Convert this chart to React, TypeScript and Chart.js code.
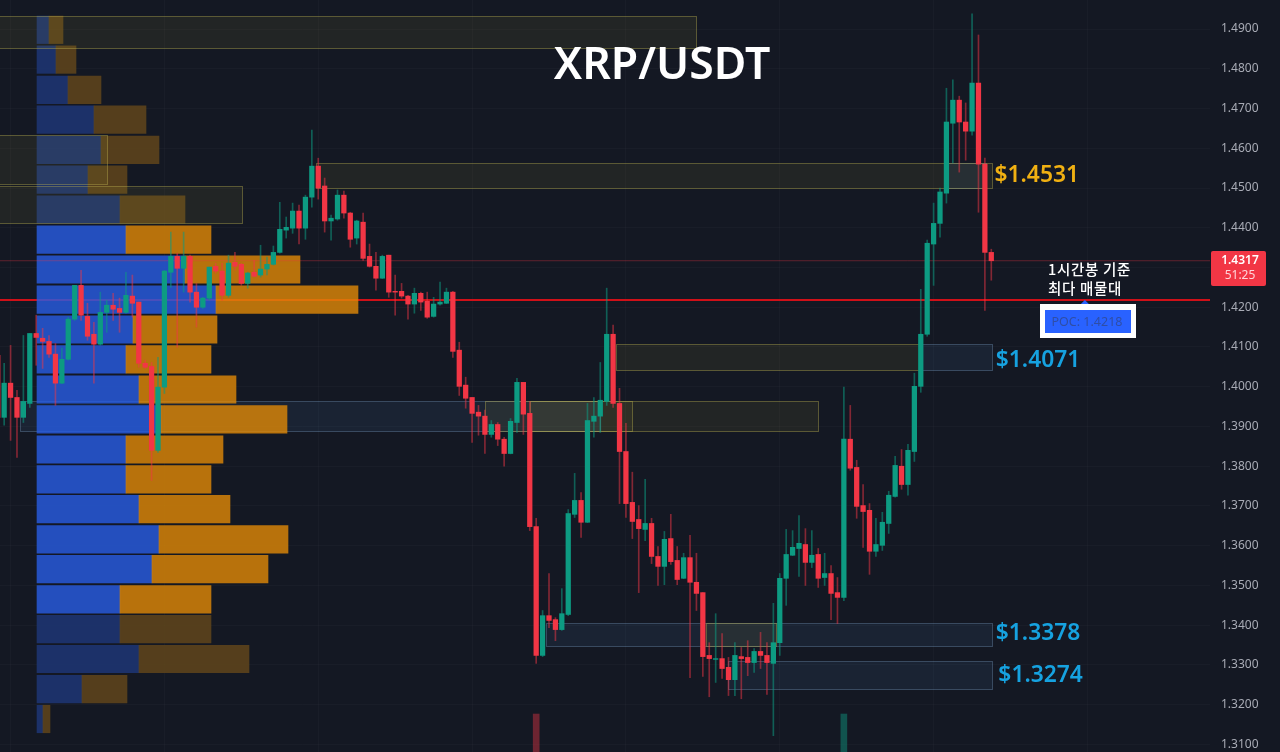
import React, { useEffect, useRef } from "react";
import { Chart, registerables } from "chart.js";

Chart.register(...registerables);

const highs = [
  1.4092,1.4059,1.4104,1.3991,1.4129,1.4134,1.4180,1.4147,1.4129,1.4109,
  1.4097,1.4175,1.4255,1.4293,1.4210,1.4162,1.4238,1.4218,1.4235,1.4223,
  1.4288,1.4281,1.4213,1.4067,1.4061,1.4074,1.4293,1.4389,1.4336,1.4389,
  1.4331,1.4260,1.4225,1.4301,1.4311,1.4311,1.4331,1.4338,1.4311,1.4288,
  1.4318,1.4356,1.4326,1.4354,1.4464,1.4427,1.4462,1.4457,1.4482,1.4646,
  1.4575,1.4525,1.4432,1.4495,1.4492,1.4439,1.4419,1.4437,1.4359,1.4338,
  1.4331,1.4331,1.4281,1.4260,1.4230,1.4248,1.4238,1.4238,1.4225,1.4263,
  1.4248,1.4240,1.4112,1.4024,1.3973,1.3953,1.3941,1.3915,1.3910,1.3873,
  1.3920,1.4021,1.4011,1.3963,1.3669,1.3437,1.3530,1.3419,1.3492,1.3691,
  1.3782,1.3734,1.3958,1.3973,1.4061,1.4248,1.4155,1.3996,1.3908,1.3785,
  1.3701,1.3767,1.3669,1.3598,1.3636,1.3679,1.3598,1.3581,1.3626,1.3581,
  1.3482,1.3356,1.3429,1.3379,1.3319,1.3356,1.3344,1.3361,1.3341,1.3382,
  1.3356,1.3455,1.3530,1.3641,1.3638,1.3676,1.3643,1.3638,1.3593,1.3581,
  1.3550,1.3520,1.3999,1.3953,1.3815,1.3754,1.3706,1.3669,1.3684,1.3737,
  1.3825,1.3842,1.3855,1.4034,1.4245,1.4369,1.4462,1.4500,1.4751,1.4772,
  1.4731,1.4714,1.4938,1.4885,1.4575,1.4346,
];
const lows = [
  1.3915,1.3903,1.3865,1.3822,1.3910,1.3948,1.4054,1.4046,1.4074,1.3953,
  1.4008,1.4067,1.4167,1.4167,1.4117,1.4009,1.4104,1.4137,1.4167,1.4137,
  1.4185,1.4175,1.4049,1.4046,1.3764,1.3835,1.3983,1.4250,1.4099,1.4238,
  1.4213,1.4150,1.4197,1.4218,1.4286,1.4218,1.4225,1.4293,1.4255,1.4248,
  1.4276,1.4276,1.4281,1.4306,1.4336,1.4374,1.4386,1.4359,1.4371,1.4452,
  1.4472,1.4389,1.4369,1.4419,1.4424,1.4351,1.4359,1.4318,1.4301,1.4243,
  1.4272,1.4225,1.4180,1.4223,1.4170,1.4185,1.4192,1.4172,1.4175,1.4205,
  1.4209,1.4074,1.3978,1.3946,1.3860,1.3878,1.3832,1.3873,1.3852,1.3800,
  1.3831,1.3885,1.3880,1.3638,1.3304,1.3321,1.3394,1.3361,1.3387,1.3424,
  1.3671,1.3621,1.3658,1.3873,1.3885,1.3953,1.3948,1.3706,1.3671,1.3618,
  1.3482,1.3613,1.3555,1.3500,1.3502,1.3553,1.3502,1.3517,1.3268,1.3437,
  1.3271,1.3220,1.3256,1.3266,1.3223,1.3223,1.3215,1.3273,1.3281,1.3291,
  1.3226,1.3122,1.3324,1.3450,1.3575,1.3523,1.3500,1.3545,1.3495,1.3500,
  1.3414,1.3404,1.3462,1.3790,1.3669,1.3596,1.3528,1.3573,1.3588,1.3631,
  1.3722,1.3742,1.3727,1.3812,1.3986,1.4127,1.4255,1.4376,1.4462,1.4563,
  1.4540,1.4570,1.4633,1.4439,1.4192,1.4268,
];
const opens = [
  1.4079,1.3923,1.4009,1.3973,1.3923,1.3958,1.4134,1.4122,1.4114,1.4082,
  1.4009,1.4069,1.4170,1.4255,1.4177,1.4132,1.4107,1.4187,1.4205,1.4197,
  1.4187,1.4228,1.4213,1.4059,1.4051,1.3840,1.3999,1.4288,1.4328,1.4298,
  1.4328,1.4238,1.4200,1.4223,1.4303,1.4291,1.4230,1.4313,1.4308,1.4260,
  1.4288,1.4281,1.4296,1.4308,1.4338,1.4394,1.4399,1.4442,1.4399,1.4477,
  1.4555,1.4505,1.4417,1.4422,1.4482,1.4437,1.4374,1.4414,1.4328,1.4303,
  1.4273,1.4331,1.4240,1.4240,1.4228,1.4208,1.4235,1.4215,1.4177,1.4208,
  1.4210,1.4238,1.4092,1.4004,1.3973,1.3936,1.3926,1.3880,1.3905,1.3868,
  1.3832,1.3910,1.4011,1.3933,1.3648,1.3324,1.3424,1.3414,1.3389,1.3427,
  1.3679,1.3714,1.3659,1.3913,1.3926,1.3963,1.4132,1.3958,1.3837,1.3709,
  1.3666,1.3641,1.3656,1.3573,1.3548,1.3618,1.3563,1.3518,1.3570,1.3508,
  1.3482,1.3324,1.3314,1.3316,1.3294,1.3263,1.3321,1.3319,1.3306,1.3334,
  1.3324,1.3304,1.3356,1.3518,1.3576,1.3593,1.3603,1.3558,1.3578,1.3520,
  1.3530,1.3482,1.3470,1.3868,1.3797,1.3701,1.3689,1.3586,1.3601,1.3656,
  1.3724,1.3800,1.3754,1.3837,1.4001,1.4132,1.4359,1.4411,1.4487,1.4663,
  1.4721,1.4666,1.4643,1.4764,1.4560,1.4338,
];
const closes = [
  1.3923,1.4009,1.3973,1.3923,1.3963,1.4134,1.4124,1.4114,1.4082,1.4009,
  1.4069,1.4170,1.4255,1.4180,1.4127,1.4107,1.4187,1.4205,1.4195,1.4187,
  1.4230,1.4210,1.4059,1.4049,1.3840,1.3999,1.4291,1.4328,1.4298,1.4328,
  1.4238,1.4200,1.4223,1.4301,1.4291,1.4230,1.4311,1.4303,1.4260,1.4286,
  1.4278,1.4296,1.4308,1.4338,1.4396,1.4401,1.4442,1.4399,1.4477,1.4555,
  1.4500,1.4417,1.4424,1.4482,1.4437,1.4371,1.4417,1.4323,1.4303,1.4273,
  1.4328,1.4238,1.4238,1.4228,1.4208,1.4235,1.4213,1.4175,1.4208,1.4213,
  1.4238,1.4089,1.4001,1.3971,1.3933,1.3926,1.3880,1.3905,1.3868,1.3832,
  1.3913,1.4011,1.3931,1.3648,1.3324,1.3424,1.3412,1.3389,1.3429,1.3681,
  1.3714,1.3659,1.3915,1.3926,1.3966,1.4132,1.3958,1.3837,1.3706,1.3661,
  1.3643,1.3656,1.3573,1.3548,1.3616,1.3560,1.3515,1.3570,1.3508,1.3480,
  1.3321,1.3316,1.3316,1.3291,1.3263,1.3324,1.3316,1.3306,1.3334,1.3324,
  1.3306,1.3356,1.3518,1.3578,1.3596,1.3606,1.3558,1.3576,1.3518,1.3530,
  1.3480,1.3470,1.3868,1.3795,1.3699,1.3686,1.3586,1.3603,1.3659,1.3727,
  1.3802,1.3754,1.3840,1.4001,1.4132,1.4361,1.4411,1.4490,1.4666,1.4721,
  1.4666,1.4643,1.4764,1.4560,1.4338,1.4317,
];

// Volume profile: one row per price bin
const profilePrices = [
  1.4898,1.4823,1.4747,1.4672,1.4596,1.4521,1.4446,1.4370,1.4295,1.4219,1.4144,1.4069,
  1.3993,1.3918,1.3842,1.3767,1.3692,1.3616,1.3541,1.3465,1.3390,1.3315,1.3239,1.3164,
];
const profileBuy = [12,19,31,57,64,51,83,89,148,179,96,89,102,124,89,89,102,122,115,83,83,102,45,6];
const profileSell = [14,20,33,52,58,39,65,85,115,142,84,85,97,126,97,85,91,129,116,91,91,110,45,7];
const valueAreaHigh = 1.438;
const valueAreaLow = 1.346;

// Zones: from/to bar position, top/bottom price
const yellowFrom = [-5, -5, -5, 49.65, 96.45, 76, 83, 110.5];
const yellowTo = [108.9, 17.1, 38.1, 155.1, 144, 99, 128, 121.4];
const yellowTop = [1.4933, 1.4633, 1.4505, 1.4563, 1.4107, 1.3965, 1.3965, 1.3405];
const yellowBottom = [1.4851, 1.4511, 1.4411, 1.45, 1.4041, 1.3888, 1.3888, 1.3348];
const blueFrom = [144, 3.5, 85.5, 114, 148.2];
const blueTo = [155.1, 94, 155.1, 155.1, 154.2];
const blueTop = [1.4107, 1.3965, 1.3405, 1.3311, 1.4563];
const blueBottom = [1.4041, 1.3888, 1.3348, 1.3239, 1.45];

const volumeBars = [84, 132];
const volumeValues = [5.05, 5.05];
const gridBars = [2, 26, 50, 74, 98, 122, 146, 170];

const POC = 1.4218;
const LAST = 1.4317;
const priceMin = 1.3081;
const priceMax = 1.4973;
const barMin = 0.351;
const barMax = 189.12;

const levelTexts = ["$1.4531", "$1.4071", "$1.3378", "$1.3274"];
const levelAnchors = [1.4531, 1.4066, 1.3378, 1.3274];
const levelBars = [155.5, 155.7, 155.7, 156.1];
const levelColors = ["#f0b012", "#16a2e0", "#16a2e0", "#16a2e0"];

const UP = "#0d9b82";
const DOWN = "#f23645";
const UP_WICK = "rgba(13,155,130,0.55)";
const DOWN_WICK = "rgba(242,54,69,0.5)";
const FONT = '"Noto Sans", sans-serif';
const CJK = '"Noto Sans CJK KR", sans-serif';

const drawZones = (chart: any, from: number[], to: number[], top: number[], bottom: number[], fill: string, line: string) => {
  const { ctx, chartArea } = chart;
  const x = chart.scales.x;
  const y = chart.scales.y;
  ctx.save();
  ctx.beginPath();
  ctx.rect(chartArea.left, chartArea.top, chartArea.right - chartArea.left, chartArea.bottom - chartArea.top);
  ctx.clip();
  from.forEach((f, i) => {
    const x0 = Math.round(x.getPixelForValue(f)) + 0.5;
    const x1 = Math.round(x.getPixelForValue(to[i])) + 0.5;
    const y0 = Math.round(y.getPixelForValue(top[i])) + 0.5;
    const y1 = Math.round(y.getPixelForValue(bottom[i])) + 0.5;
    ctx.fillStyle = fill;
    ctx.fillRect(x0, y0, x1 - x0, y1 - y0);
    ctx.strokeStyle = line;
    ctx.lineWidth = 1;
    ctx.strokeRect(x0, y0, x1 - x0, y1 - y0);
  });
  ctx.restore();
};

const zonesPlugin = {
  id: "zones",
  afterDatasetDraw(chart: any, args: any) {
    const label = chart.data.datasets[args.index].label;
    if (label === "poc") {
      drawZones(chart, blueFrom, blueTo, blueTop, blueBottom, "rgba(90,160,230,0.085)", "rgba(130,170,210,0.32)");
    }
    if (label === "sell") {
      drawZones(chart, yellowFrom, yellowTo, yellowTop, yellowBottom, "rgba(200,190,60,0.08)", "rgba(190,180,80,0.4)");
    }
  },
};

const labelsPlugin = {
  id: "labels",
  afterDraw(chart: any) {
    const { ctx } = chart;
    const x = chart.scales.x;
    const y = chart.scales.y;
    ctx.save();
    ctx.textBaseline = "middle";

    ctx.fillStyle = "#ffffff";
    ctx.font = `600 44.5px ${FONT}`;
    ctx.textAlign = "center";
    ctx.fillText("XRP/USDT", 662, 66);

    ctx.textAlign = "left";
    ctx.font = `600 22.8px ${FONT}`;
    levelTexts.forEach((t, i) => {
      ctx.fillStyle = levelColors[i];
      ctx.fillText(t, x.getPixelForValue(levelBars[i]), y.getPixelForValue(levelAnchors[i]));
    });

    // annotation
    ctx.fillStyle = "#ffffff";
    ctx.font = `500 14.5px ${CJK}`;
    ctx.textAlign = "left";
    (ctx as any).letterSpacing = "0.7px";
    ctx.fillText("1시간봉 기준", 1048, 269);
    ctx.fillText("최다 매물대", 1048, 288);
    (ctx as any).letterSpacing = "0px";

    // POC tag
    const px = x.getPixelForValue(169.6);
    const py = y.getPixelForValue(POC);
    ctx.fillStyle = "#2962ff";
    ctx.beginPath();
    ctx.moveTo(px, py);
    ctx.lineTo(px - 5, py + 5);
    ctx.lineTo(px + 5, py + 5);
    ctx.closePath();
    ctx.fill();
    ctx.fillStyle = "#ffffff";
    ctx.fillRect(1040, 304, 96, 34);
    ctx.fillStyle = "#2962ff";
    ctx.fillRect(1045, 310, 86, 23);
    ctx.fillStyle = "#2f4ea6";
    ctx.font = `12.5px ${FONT}`;
    ctx.textAlign = "center";
    ctx.fillText(`POC: ${POC.toFixed(4)}`, 1087, 322);

    // last price badge
    ctx.fillStyle = DOWN;
    ctx.beginPath();
    ctx.roundRect(1211, 251, 55, 35, 2);
    ctx.fill();
    ctx.fillStyle = "#ffffff";
    ctx.font = `600 12px ${FONT}`;
    ctx.fillText(LAST.toFixed(4), 1240, 261);
    ctx.fillStyle = "#ffd5d9";
    ctx.font = `12px ${FONT}`;
    ctx.fillText("51:25", 1240, 276);
    ctx.restore();
  },
};

export default function App() {
  const ref = useRef<HTMLCanvasElement | null>(null);

  useEffect(() => {
    const canvas = ref.current;
    if (!canvas) return;
    const bars = opens.map((_, i) => i);
    const isUp = (i: number) => closes[i] >= opens[i];

    const profileColor = (i: number, bright: string, dim: string) =>
      profilePrices[i] <= valueAreaHigh && profilePrices[i] >= valueAreaLow ? bright : dim;

    const chart = new Chart(canvas, {
      type: "bar",
      plugins: [zonesPlugin, labelsPlugin],
      data: {
        datasets: [
          {
            type: "line",
            label: "poc",
            data: [{ x: barMin, y: POC }, { x: barMax, y: POC }],
            borderColor: "#d01018",
            borderWidth: 2,
            pointRadius: 0,
            order: 9,
            xAxisID: "x",
            yAxisID: "y",
          },
          {
            type: "bar",
            label: "buy",
            indexAxis: "y",
            xAxisID: "xv",
            yAxisID: "y",
            grouped: false,
            barThickness: 27.5,
            order: 8,
            data: profilePrices.map((p, i) => ({ y: p, x: [0, profileBuy[i]] })),
            backgroundColor: profilePrices.map((_, i) => profileColor(i, "rgba(40,94,229,0.8)", "rgba(30,56,122,0.8)")),
          },
          {
            type: "bar",
            label: "sell",
            indexAxis: "y",
            xAxisID: "xv",
            yAxisID: "y",
            grouped: false,
            barThickness: 27.5,
            order: 7,
            data: profilePrices.map((p, i) => ({ y: p, x: [profileBuy[i], profileBuy[i] + profileSell[i]] })),
            backgroundColor: profilePrices.map((_, i) => profileColor(i, "rgba(225,137,6,0.8)", "rgba(101,72,26,0.8)")),
          },
          {
            type: "line",
            label: "last",
            data: [{ x: barMin, y: LAST }, { x: barMax, y: LAST }],
            borderColor: "rgba(242,54,69,0.35)",
            borderWidth: 1,
            pointRadius: 0,
            order: 6,
            xAxisID: "x",
            yAxisID: "y",
          },
          {
            type: "bar",
            label: "volume",
            xAxisID: "x",
            yAxisID: "yv",
            grouped: false,
            barThickness: 6,
            order: 5,
            data: volumeBars.map((b, i) => ({ x: b, y: volumeValues[i] })),
            backgroundColor: volumeBars.map((b) => (isUp(b) ? "rgba(13,155,130,0.45)" : "rgba(242,54,69,0.4)")),
          },
          {
            type: "bar",
            label: "wicks",
            xAxisID: "x",
            yAxisID: "y",
            grouped: false,
            barThickness: 1,
            order: 4,
            data: bars.map((i) => ({ x: i, y: [lows[i], highs[i]] })),
            backgroundColor: bars.map((i) => (isUp(i) ? UP_WICK : DOWN_WICK)),
          },
          {
            type: "bar",
            label: "bodies",
            xAxisID: "x",
            yAxisID: "y",
            grouped: false,
            barThickness: 4.6,
            order: 3,
            data: bars.map((i) => ({ x: i, y: [opens[i], closes[i]] })),
            backgroundColor: bars.map((i) => (isUp(i) ? UP : DOWN)),
          },
        ] as any,
      },
      options: {
        responsive: false,
        animation: false,
        devicePixelRatio: 1,
        layout: { padding: 0 },
        plugins: { legend: { display: false }, tooltip: { enabled: false }, title: { display: false } },
        scales: {
          x: {
            type: "linear",
            axis: "x",
            position: "bottom",
            min: barMin,
            max: barMax,
            offset: false,
            border: { display: false },
            grid: { offset: false, color: "rgba(255,255,255,0.025)", drawTicks: false },
            ticks: { display: false },
            afterBuildTicks: (s: any) => {
              s.ticks = gridBars.map((value) => ({ value }));
            },
            afterFit: (s: any) => {
              s.height = 0;
              s.paddingLeft = 0;
              s.paddingRight = 0;
              s.paddingTop = 0;
              s.paddingBottom = 0;
            },
          },
          xv: {
            type: "linear",
            axis: "x",
            display: false,
            min: -37,
            max: 1173,
            offset: false,
            grid: { offset: false },
          },
          y: {
            type: "linear",
            axis: "y",
            position: "right",
            min: priceMin,
            max: priceMax,
            offset: false,
            border: { display: false },
            grid: { offset: false, color: "rgba(255,255,255,0.025)", drawTicks: false },
            ticks: {
              stepSize: 0.01,
              includeBounds: false,
              padding: 11,
              color: "#a8abb5",
              font: { family: '"Noto Sans", sans-serif', size: 12 },
              callback: (v: any) => Number(v).toFixed(4),
            },
            afterFit: (s: any) => {
              s.width = 70;
              s.paddingTop = 0;
              s.paddingBottom = 0;
              s.paddingLeft = 0;
              s.paddingRight = 0;
            },
          },
          yv: {
            type: "linear",
            axis: "y",
            display: false,
            min: 0,
            max: 100,
            offset: false,
            grid: { offset: false },
          },
        },
      } as any,
    });
    return () => chart.destroy();
  }, []);

  return (
    <div style={{ position: "fixed", left: 0, top: 0, width: 1280, height: 752, background: "#141823", overflow: "hidden" }}>
      <canvas ref={ref} width={1280} height={752} style={{ display: "block" }} />
    </div>
  );
}
